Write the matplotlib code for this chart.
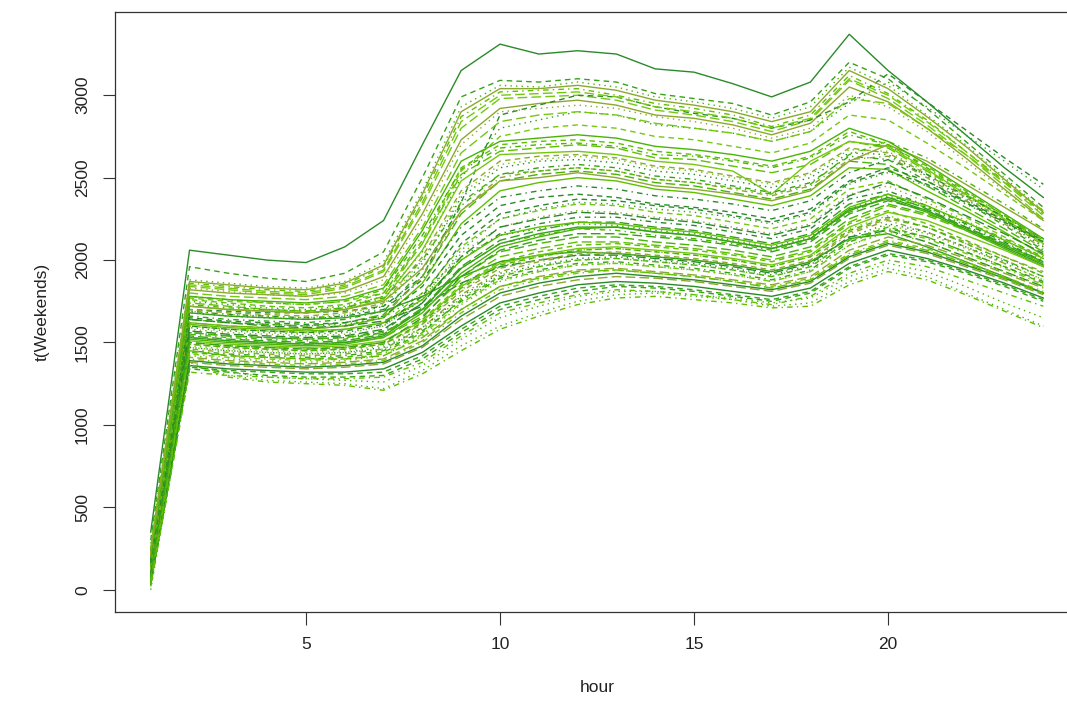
import matplotlib
matplotlib.use("Agg")
import matplotlib.pyplot as plt

plt.rcParams['font.family'] = ['Liberation Sans', 'DejaVu Sans']

hours = list(range(1, 25))

# one row per weekend day, 24 hourly values
weekends = [
    [350, 2060, 2030, 2000, 1985, 2080, 2240, 2700, 3150, 3310, 3250, 3270, 3250, 3160, 3140, 3070, 2990, 3080, 3370, 3150, 2960, 2760, 2560, 2380],
    [300, 1960, 1920, 1890, 1870, 1920, 2050, 2500, 2990, 3090, 3080, 3100, 3080, 3010, 2980, 2950, 2880, 2960, 3200, 3100, 2920, 2720, 2520, 2320],
    [280, 1880, 1860, 1840, 1830, 1870, 1990, 2420, 2930, 3060, 3050, 3080, 3050, 2990, 2960, 2920, 2860, 2930, 3170, 3060, 2880, 2700, 2500, 2300],
    [260, 1860, 1840, 1820, 1810, 1850, 1960, 2380, 2870, 3020, 3030, 3040, 3000, 2950, 2920, 2880, 2810, 2880, 3120, 3010, 2850, 2660, 2480, 2280],
    [240, 1840, 1820, 1800, 1790, 1830, 1930, 2330, 2800, 2980, 2990, 3000, 2970, 2910, 2880, 2840, 2780, 2850, 3090, 2980, 2820, 2640, 2450, 2250],
    [220, 1820, 1800, 1790, 1780, 1810, 1900, 2280, 2730, 2920, 2950, 2970, 2940, 2880, 2860, 2820, 2760, 2830, 3050, 2960, 2800, 2620, 2430, 2240],
    [230, 1700, 1690, 1680, 1680, 1690, 1720, 1900, 2350, 2880, 2940, 3000, 2990, 2930, 2890, 2860, 2800, 2850, 2960, 3130, 2960, 2790, 2620, 2460],
    [210, 1750, 1730, 1710, 1700, 1720, 1780, 2050, 2500, 2800, 2850, 2900, 2880, 2820, 2800, 2770, 2720, 2780, 2950, 3080, 2930, 2760, 2600, 2430],
    [200, 1780, 1760, 1740, 1730, 1750, 1820, 2150, 2550, 2680, 2700, 2710, 2690, 2640, 2630, 2600, 2560, 2620, 2760, 2700, 2560, 2410, 2270, 2120],
    [190, 1740, 1720, 1700, 1690, 1710, 1780, 2100, 2520, 2660, 2680, 2700, 2680, 2620, 2610, 2570, 2530, 2580, 2720, 2680, 2540, 2400, 2260, 2110],
    [180, 1720, 1700, 1690, 1680, 1700, 1760, 2060, 2480, 2640, 2650, 2660, 2640, 2600, 2580, 2540, 2400, 2600, 2720, 2690, 2550, 2400, 2250, 2100],
    [170, 1700, 1680, 1670, 1660, 1680, 1740, 2020, 2420, 2600, 2630, 2640, 2620, 2570, 2550, 2510, 2470, 2530, 2680, 2650, 2520, 2380, 2240, 2090],
    [160, 1680, 1660, 1650, 1640, 1660, 1720, 1980, 2380, 2560, 2600, 2610, 2590, 2540, 2520, 2480, 2440, 2500, 2650, 2640, 2510, 2370, 2230, 2080],
    [150, 1660, 1640, 1630, 1620, 1640, 1690, 1940, 2330, 2520, 2560, 2580, 2560, 2510, 2490, 2450, 2410, 2470, 2630, 2610, 2480, 2350, 2210, 2060],
    [140, 1640, 1620, 1610, 1600, 1620, 1670, 1900, 2280, 2480, 2520, 2540, 2520, 2470, 2450, 2410, 2370, 2430, 2600, 2580, 2450, 2320, 2190, 2050],
    [130, 1620, 1600, 1590, 1580, 1600, 1650, 1860, 2220, 2420, 2470, 2500, 2480, 2430, 2410, 2370, 2330, 2390, 2560, 2550, 2420, 2300, 2170, 2030],
    [120, 1600, 1580, 1570, 1560, 1580, 1620, 1800, 2080, 2250, 2300, 2340, 2330, 2290, 2270, 2230, 2190, 2250, 2430, 2480, 2370, 2260, 2140, 2010],
    [110, 1580, 1560, 1550, 1540, 1550, 1600, 1770, 2040, 2200, 2260, 2300, 2290, 2260, 2240, 2200, 2160, 2220, 2400, 2450, 2350, 2240, 2120, 2000],
    [100, 1560, 1540, 1530, 1520, 1530, 1570, 1740, 2000, 2160, 2220, 2260, 2260, 2230, 2210, 2170, 2130, 2190, 2370, 2420, 2330, 2220, 2110, 1990],
    [95, 1540, 1520, 1510, 1500, 1510, 1550, 1710, 1960, 2120, 2180, 2230, 2230, 2200, 2180, 2140, 2100, 2160, 2340, 2400, 2310, 2200, 2090, 1980],
    [90, 1520, 1500, 1490, 1480, 1490, 1530, 1680, 1920, 2080, 2140, 2190, 2200, 2170, 2150, 2110, 2070, 2130, 2310, 2370, 2290, 2180, 2070, 1960],
    [85, 1500, 1480, 1470, 1460, 1470, 1500, 1640, 1850, 1990, 2050, 2090, 2100, 2080, 2060, 2030, 1990, 2050, 2220, 2300, 2220, 2120, 2020, 1920],
    [80, 1480, 1460, 1450, 1440, 1450, 1480, 1610, 1820, 1960, 2020, 2060, 2070, 2050, 2030, 2000, 1960, 2020, 2190, 2270, 2200, 2100, 2000, 1900],
    [75, 1460, 1440, 1430, 1420, 1430, 1460, 1590, 1790, 1930, 1990, 2030, 2040, 2020, 2000, 1970, 1930, 1990, 2160, 2240, 2170, 2080, 1980, 1880],
    [70, 1640, 1620, 1600, 1590, 1600, 1630, 1720, 1860, 1960, 2000, 2030, 2030, 2010, 1990, 1960, 1920, 1980, 2140, 2180, 2110, 2020, 1930, 1840],
    [65, 1680, 1660, 1650, 1640, 1650, 1690, 1780, 1900, 1990, 2030, 2050, 2040, 2020, 2000, 1970, 1930, 1990, 2130, 2160, 2080, 1990, 1900, 1800],
    [60, 1440, 1420, 1410, 1400, 1410, 1440, 1560, 1760, 1900, 1960, 2000, 2010, 1990, 1970, 1940, 1900, 1960, 2120, 2200, 2140, 2050, 1960, 1860],
    [55, 1420, 1400, 1390, 1380, 1390, 1420, 1540, 1730, 1870, 1930, 1970, 1980, 1960, 1940, 1910, 1870, 1930, 2090, 2170, 2110, 2020, 1930, 1840],
    [50, 1400, 1380, 1370, 1360, 1370, 1390, 1500, 1680, 1820, 1880, 1920, 1940, 1920, 1900, 1870, 1840, 1890, 2040, 2120, 2070, 1990, 1900, 1810],
    [45, 1380, 1360, 1350, 1340, 1350, 1370, 1470, 1640, 1780, 1840, 1880, 1900, 1890, 1870, 1840, 1810, 1860, 2010, 2090, 2040, 1960, 1880, 1790],
    [40, 1360, 1340, 1330, 1320, 1320, 1340, 1440, 1600, 1740, 1800, 1850, 1870, 1860, 1840, 1810, 1780, 1830, 1980, 2060, 2010, 1940, 1860, 1770],
    [35, 1340, 1320, 1300, 1290, 1290, 1300, 1400, 1560, 1700, 1760, 1810, 1840, 1830, 1810, 1780, 1750, 1800, 1950, 2030, 1990, 1920, 1840, 1750],
    [30, 1380, 1300, 1270, 1260, 1250, 1220, 1330, 1480, 1600, 1680, 1750, 1790, 1800, 1780, 1760, 1720, 1740, 1870, 1950, 1900, 1800, 1700, 1600],
    [25, 1370, 1290, 1260, 1250, 1240, 1210, 1310, 1450, 1580, 1660, 1730, 1770, 1780, 1760, 1740, 1710, 1720, 1850, 1930, 1880, 1790, 1690, 1590],
    [210, 1800, 1780, 1770, 1760, 1780, 1850, 2200, 2650, 2840, 2880, 2900, 2880, 2830, 2800, 2770, 2720, 2780, 2980, 2950, 2800, 2640, 2470, 2300],
    [200, 1720, 1700, 1690, 1680, 1700, 1750, 1950, 2300, 2480, 2500, 2530, 2500, 2450, 2430, 2400, 2360, 2420, 2600, 2700, 2600, 2460, 2320, 2180],
    [180, 1650, 1630, 1620, 1610, 1620, 1660, 1840, 2150, 2330, 2380, 2400, 2380, 2340, 2320, 2290, 2250, 2310, 2480, 2560, 2480, 2360, 2240, 2120],
    [170, 1590, 1570, 1560, 1550, 1560, 1600, 1760, 2060, 2250, 2310, 2350, 2340, 2310, 2290, 2260, 2220, 2280, 2460, 2530, 2450, 2340, 2230, 2110],
    [150, 1550, 1530, 1520, 1510, 1520, 1560, 1700, 1950, 2100, 2150, 2190, 2180, 2150, 2130, 2100, 2060, 2120, 2290, 2380, 2320, 2230, 2130, 2020],
    [140, 1530, 1510, 1500, 1490, 1500, 1530, 1660, 1880, 2020, 2070, 2110, 2110, 2090, 2070, 2040, 2000, 2060, 2230, 2330, 2270, 2180, 2080, 1980],
    [130, 1510, 1490, 1480, 1470, 1480, 1510, 1630, 1840, 1980, 2030, 2070, 2080, 2060, 2040, 2010, 1970, 2030, 2200, 2290, 2240, 2150, 2060, 1960],
    [120, 1490, 1470, 1460, 1450, 1460, 1490, 1610, 1810, 1950, 2000, 2040, 2050, 2030, 2010, 1980, 1940, 2000, 2170, 2250, 2200, 2110, 2020, 1930],
    [110, 1470, 1450, 1440, 1430, 1440, 1470, 1590, 1780, 1920, 1970, 2010, 2020, 2000, 1980, 1950, 1910, 1970, 2140, 2220, 2170, 2080, 1990, 1900],
    [100, 1450, 1430, 1420, 1410, 1420, 1450, 1570, 1750, 1890, 1940, 1980, 1990, 1970, 1950, 1920, 1880, 1940, 2110, 2190, 2140, 2050, 1960, 1870],
    [90, 1560, 1540, 1530, 1520, 1530, 1560, 1690, 1900, 2050, 2100, 2140, 2140, 2110, 2090, 2060, 2020, 2080, 2250, 2340, 2280, 2190, 2090, 1990],
    [80, 1610, 1590, 1580, 1570, 1580, 1620, 1760, 2000, 2150, 2200, 2230, 2220, 2190, 2170, 2130, 2090, 2150, 2320, 2400, 2330, 2230, 2120, 2010],
    [70, 1770, 1750, 1740, 1730, 1750, 1800, 2100, 2540, 2750, 2800, 2820, 2800, 2750, 2730, 2690, 2650, 2710, 2880, 2850, 2710, 2560, 2400, 2240],
    [60, 1830, 1810, 1790, 1780, 1800, 1880, 2250, 2700, 2900, 2920, 2940, 2920, 2870, 2840, 2800, 2740, 2800, 3000, 2930, 2780, 2600, 2420, 2250],
    [50, 1690, 1670, 1660, 1650, 1660, 1700, 1880, 2200, 2380, 2420, 2450, 2430, 2390, 2370, 2340, 2300, 2360, 2530, 2610, 2520, 2390, 2260, 2130],
    [40, 1500, 1480, 1470, 1460, 1470, 1500, 1650, 1900, 2060, 2120, 2160, 2160, 2140, 2120, 2090, 2050, 2110, 2280, 2360, 2300, 2200, 2100, 1990],
    [150, 1780, 1760, 1750, 1740, 1760, 1830, 2180, 2600, 2720, 2740, 2760, 2740, 2690, 2670, 2640, 2600, 2660, 2800, 2720, 2580, 2430, 2280, 2130],
    [140, 1760, 1740, 1720, 1710, 1730, 1800, 2120, 2560, 2700, 2720, 2730, 2710, 2660, 2640, 2610, 2570, 2630, 2780, 2700, 2570, 2420, 2270, 2120],
    [120, 1690, 1670, 1660, 1650, 1670, 1730, 2000, 2400, 2580, 2610, 2630, 2610, 2560, 2540, 2500, 2460, 2520, 2670, 2660, 2530, 2390, 2240, 2090],
    [100, 1620, 1600, 1590, 1580, 1600, 1660, 1900, 2300, 2500, 2540, 2560, 2540, 2490, 2470, 2430, 2390, 2450, 2610, 2630, 2500, 2360, 2220, 2070],
    [90, 1570, 1550, 1540, 1530, 1540, 1580, 1740, 2020, 2200, 2250, 2290, 2280, 2250, 2230, 2190, 2150, 2210, 2390, 2470, 2380, 2270, 2160, 2040],
    [80, 1530, 1510, 1500, 1490, 1500, 1540, 1700, 1950, 2100, 2160, 2200, 2200, 2170, 2150, 2110, 2070, 2130, 2300, 2380, 2300, 2190, 2080, 1970],
    [70, 1490, 1470, 1460, 1450, 1460, 1490, 1620, 1830, 1970, 2020, 2060, 2070, 2050, 2030, 2000, 1960, 2020, 2180, 2260, 2200, 2100, 2000, 1900],
    [60, 1470, 1450, 1440, 1430, 1440, 1460, 1580, 1770, 1910, 1960, 2000, 2010, 1990, 1970, 1940, 1900, 1960, 2120, 2210, 2160, 2070, 1980, 1880],
    [50, 1430, 1410, 1400, 1390, 1400, 1430, 1550, 1740, 1880, 1930, 1970, 1980, 1960, 1940, 1910, 1870, 1930, 2090, 2180, 2130, 2040, 1950, 1850],
    [45, 1410, 1390, 1380, 1370, 1380, 1400, 1510, 1700, 1840, 1900, 1940, 1950, 1930, 1910, 1880, 1850, 1900, 2060, 2140, 2090, 2010, 1920, 1830],
    [40, 1390, 1370, 1360, 1350, 1360, 1380, 1480, 1660, 1800, 1860, 1900, 1920, 1900, 1880, 1850, 1820, 1870, 2020, 2100, 2050, 1970, 1890, 1800],
    [30, 1350, 1330, 1320, 1310, 1310, 1320, 1420, 1580, 1720, 1780, 1830, 1850, 1840, 1820, 1790, 1760, 1810, 1960, 2040, 2000, 1930, 1850, 1760],
    [0, 1360, 1320, 1290, 1280, 1270, 1260, 1360, 1520, 1650, 1720, 1780, 1810, 1810, 1790, 1770, 1740, 1770, 1900, 1980, 1930, 1840, 1740, 1650],
    [20, 1320, 1300, 1290, 1280, 1280, 1290, 1380, 1540, 1680, 1740, 1790, 1820, 1810, 1790, 1760, 1730, 1780, 1920, 2000, 1960, 1880, 1800, 1720],
    [250, 1850, 1830, 1810, 1800, 1840, 1940, 2350, 2840, 3000, 3010, 3020, 2990, 2930, 2900, 2860, 2800, 2860, 3100, 3000, 2840, 2660, 2470, 2270],
    [230, 1870, 1850, 1830, 1820, 1860, 1970, 2400, 2900, 3040, 3040, 3060, 3030, 2970, 2940, 2900, 2840, 2900, 3150, 3040, 2870, 2690, 2490, 2290],
    [160, 1600, 1580, 1570, 1560, 1570, 1610, 1780, 2100, 2280, 2330, 2370, 2360, 2330, 2310, 2270, 2230, 2290, 2470, 2540, 2460, 2350, 2230, 2110],
    [110, 1640, 1620, 1610, 1600, 1610, 1650, 1800, 2020, 2150, 2190, 2220, 2210, 2180, 2160, 2120, 2080, 2140, 2310, 2390, 2320, 2210, 2100, 1990],
    [190, 1730, 1710, 1700, 1690, 1710, 1770, 2000, 2350, 2520, 2540, 2560, 2540, 2490, 2470, 2440, 2400, 2460, 2640, 2720, 2620, 2480, 2340, 2190],
    [35, 1450, 1420, 1410, 1400, 1400, 1420, 1530, 1700, 1840, 1890, 1930, 1940, 1920, 1900, 1870, 1830, 1880, 2030, 2110, 2060, 1980, 1890, 1800],
]

line_colors = ['#2a8a2a', '#36a218', '#48b408', '#5ec000', '#74c810', '#8ca830']
line_styles = ['-', (0, (4, 3)), (0, (1, 3)), (0, (1, 3, 4, 3)), (0, (7, 3))]

fig = plt.figure(figsize=(10.67, 7.2), dpi=100)
ax = fig.add_axes([115 / 1067, 1 - 612 / 720, (1079 - 115) / 1067, 600 / 720])

for i, day in enumerate(weekends):
    ax.plot(hours, day, color=line_colors[i % len(line_colors)],
            linestyle=line_styles[i % len(line_styles)], linewidth=1.0)

ax.set_xlim(0.08, 24.92)
ax.set_ylim(-135, 3505)
ax.set_xticks([5, 10, 15, 20])
ax.set_yticks([0, 500, 1000, 1500, 2000, 2500, 3000])
ax.set_yticklabels(['0', '500', '1000', '1500', '2000', '2500', '3000'],
                   rotation=90, va='center')
ax.tick_params(axis='both', length=9, width=0.8, color='#333333',
               labelsize=12.5, labelcolor='#222222', pad=9)
for side in ['left', 'bottom', 'top', 'right']:
    ax.spines[side].set_color('#333333')
    ax.spines[side].set_linewidth(0.9)

ax.set_xlabel('hour', fontsize=12.5, color='#222222', labelpad=20)
ax.set_ylabel('t(Weekends)', fontsize=12.5, color='#222222', labelpad=18)

fig.savefig('out.png', dpi=100)
